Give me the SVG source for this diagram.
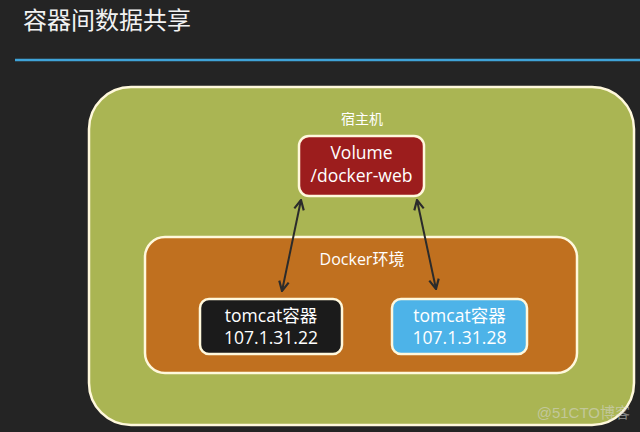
<svg xmlns="http://www.w3.org/2000/svg" width="640" height="432" viewBox="0 0 640 432">
<defs>
<style>
.t{font-family:"Open Sans","Noto Sans CJK SC",sans-serif;fill:#ffffff;text-anchor:middle}
.box{stroke:#fff8dc;stroke-width:2.5}
.conn{stroke:#2b2b2b;stroke-width:2;fill:none;marker-start:url(#ah);marker-end:url(#ah)}
</style>
<marker id="ah" viewBox="0 0 10 10" refX="9" refY="5" markerWidth="6" markerHeight="6" orient="auto-start-reverse" markerUnits="strokeWidth">
<path d="M1,1 L9,5 L1,9" fill="none" stroke="#2b2b2b" stroke-width="1.8"/>
</marker>
</defs>
<rect x="0" y="0" width="640" height="432" fill="#242424"/>
<text x="23" y="29" font-family="'Noto Sans CJK SC','Noto Sans',sans-serif" font-size="24" fill="#f2f2f2">容器间数据共享</text>
<line x1="15" y1="60" x2="640" y2="60" stroke="#3fa3d8" stroke-width="2.5"/>
<g id="host">
<rect class="box" x="89" y="87" width="545" height="338" rx="42" fill="#aab553"/>
<text class="t" x="362" y="124" font-size="14">宿主机</text>
</g>
<g id="docker">
<rect class="box" x="145" y="237" width="432" height="136" rx="20" fill="#c0701f"/>
<text class="t" x="362" y="265" font-size="16">Docker环境</text>
</g>
<g id="volume">
<rect class="box" x="299" y="136" width="125" height="60" rx="10" fill="#9c1d1d"/>
<text class="t" x="361.5" y="159" font-size="17.5">Volume</text>
<text class="t" x="361.5" y="182" font-size="17.5">/docker-web</text>
</g>
<g id="tomcat1">
<rect class="box" x="200" y="299" width="142" height="55" rx="9" fill="#1b1b1b"/>
<text class="t" x="271" y="322" font-size="17.5">tomcat容器</text>
<text class="t" x="271" y="344" font-size="17.5">107.1.31.22</text>
</g>
<g id="tomcat2">
<rect class="box" x="392" y="299" width="135" height="55" rx="9" fill="#4db3e8"/>
<text class="t" x="459.5" y="322" font-size="17.5">tomcat容器</text>
<text class="t" x="459.5" y="344" font-size="17.5">107.1.31.28</text>
</g>
<g id="connectors">
<line class="conn" x1="301" y1="200" x2="282" y2="291"/>
<line class="conn" x1="417" y1="200" x2="436" y2="289"/>
</g>
<text x="630" y="418" font-family="'Liberation Sans','Noto Sans CJK SC',sans-serif" font-size="15" fill="#d8d8d8" fill-opacity="0.55" text-anchor="end">@51CTO博客</text>
</svg>
